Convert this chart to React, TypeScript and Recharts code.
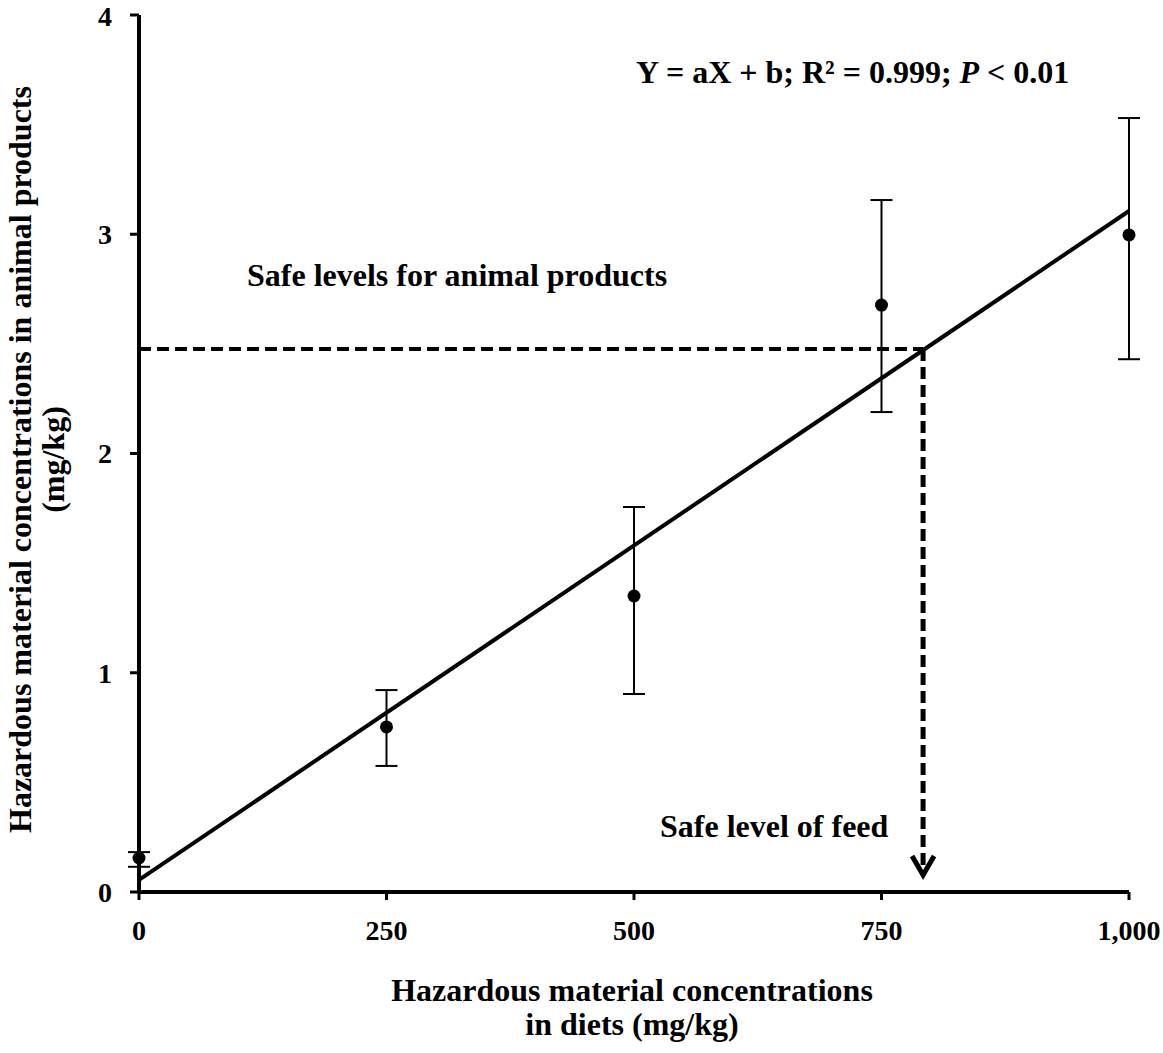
import {
  ComposedChart,
  Line,
  Scatter,
  ErrorBar,
  XAxis,
  YAxis,
  ReferenceLine,
  ReferenceDot,
  Label,
} from 'recharts';

// measured means with asymmetric error [down, up]
const doses = [0, 250, 500, 750, 1000];
const means = [0.155, 0.753, 1.35, 2.677, 2.997];
const errDown = [0.04, 0.178, 0.447, 0.488, 0.567];
const errUp = [0.027, 0.168, 0.406, 0.479, 0.533];

// fitted regression line end points
const fitX = [0, 1000];
const fitY = [0.055, 3.106];

// safe level read-off
const safeProduct = 2.477;
const safeFeed = 792;

const xTicks = [0, 250, 500, 750, 1000];
const yTicks = [0, 1, 2, 3, 4];

const FONT = '"Liberation Serif", "Times New Roman", serif';

const points = doses.map((d, i) => ({ x: d, y: means[i], err: [errDown[i], errUp[i]] }));
const fit = fitX.map((x, i) => ({ x, y: fitY[i] }));

const Arrow = (props: any) => {
  const { cx, cy } = props;
  return (
    <path
      d={`M${cx - 11},${cy - 21} L${cx},${cy - 2} L${cx + 11},${cy - 21}`}
      fill="none"
      stroke="#000"
      strokeWidth={5}
    />
  );
};

const Dot = (props: any) => <circle cx={props.cx} cy={props.cy} r={6.5} fill="#000" />;

const YTitle = (props: any) => {
  const { viewBox } = props;
  const cy = viewBox.y + viewBox.height / 2 + 6;
  return (
    <g fontFamily={FONT} fontWeight="bold" fontSize={32} fill="#000">
      <text x={20} y={cy} transform={`rotate(-90, 20, ${cy})`} textAnchor="middle" dominantBaseline="central">
        Hazardous material concentrations in animal products
      </text>
      <text x={53} y={cy} transform={`rotate(-90, 53, ${cy})`} textAnchor="middle" dominantBaseline="central">
        (mg/kg)
      </text>
    </g>
  );
};

const XTitle = (props: any) => {
  const { viewBox } = props;
  const cx = 632;
  const y0 = viewBox.y;
  return (
    <g fontFamily={FONT} fontWeight="bold" fontSize={32} fill="#000">
      <text x={cx} y={y0 + 109} textAnchor="middle">
        Hazardous material concentrations
      </text>
      <text x={cx} y={y0 + 143} textAnchor="middle">
        in diets (mg/kg)
      </text>
    </g>
  );
};

export default function App() {
  return (
    <div style={{ position: 'absolute', left: 0, top: 0, background: '#fff' }}>
      <ComposedChart
        width={1163}
        height={1053}
        margin={{ top: 15, right: 34, bottom: 0, left: 0 }}
      >
        <XAxis
          type="number"
          dataKey="x"
          domain={[0, 1000]}
          ticks={xTicks}
          tickFormatter={(v: number) => v.toLocaleString('en-US')}
          axisLine={{ stroke: '#000', strokeWidth: 4 }}
          tickLine={{ stroke: '#000', strokeWidth: 3 }}
          tickSize={8}
          tickMargin={20}
          height={161}
          tick={{ fill: '#000', fontSize: 28, fontWeight: 'bold', fontFamily: FONT }}
        >
          <Label content={<XTitle />} position="bottom" />
        </XAxis>
        <YAxis
          type="number"
          dataKey="y"
          domain={[0, 4]}
          ticks={yTicks}
          axisLine={{ stroke: '#000', strokeWidth: 4 }}
          tickLine={{ stroke: '#000', strokeWidth: 3 }}
          tickSize={9}
          tickMargin={18}
          width={139}
          tick={{ fill: '#000', fontSize: 28, fontWeight: 'bold', fontFamily: FONT }}
        >
          <Label content={<YTitle />} position="left" />
        </YAxis>

        <ReferenceLine
          segment={[{ x: 0, y: safeProduct }, { x: safeFeed, y: safeProduct }]}
          stroke="#000"
          strokeWidth={4}
          strokeDasharray="12 6"
        />
        <ReferenceLine
          segment={[{ x: safeFeed, y: safeProduct }, { x: safeFeed, y: 0.08 }]}
          stroke="#000"
          strokeWidth={5}
          strokeDasharray="12 6"
        />
        <ReferenceDot x={safeFeed} y={0.068} shape={<Arrow />} />

        <Line
          data={fit}
          dataKey="y"
          type="linear"
          stroke="#000"
          strokeWidth={4}
          dot={false}
          activeDot={false}
          isAnimationActive={false}
        />
        <Scatter data={points} dataKey="y" shape={<Dot />} isAnimationActive={false}>
          <ErrorBar dataKey="err" direction="y" width={11} stroke="#000" strokeWidth={2} isAnimationActive={false} />
        </Scatter>

        <text x={247} y={286} fontFamily={FONT} fontWeight="bold" fontSize={32} fill="#000">
          Safe levels for animal products
        </text>
        <text x={660} y={837} fontFamily={FONT} fontWeight="bold" fontSize={32} fill="#000">
          Safe level of feed
        </text>
        <text x={636} y={83} fontFamily={FONT} fontWeight="bold" fontSize={32} fill="#000">
          Y = aX + b; R² = 0.999; <tspan fontStyle="italic">P</tspan> &lt; 0.01
        </text>
      </ComposedChart>
    </div>
  );
}
